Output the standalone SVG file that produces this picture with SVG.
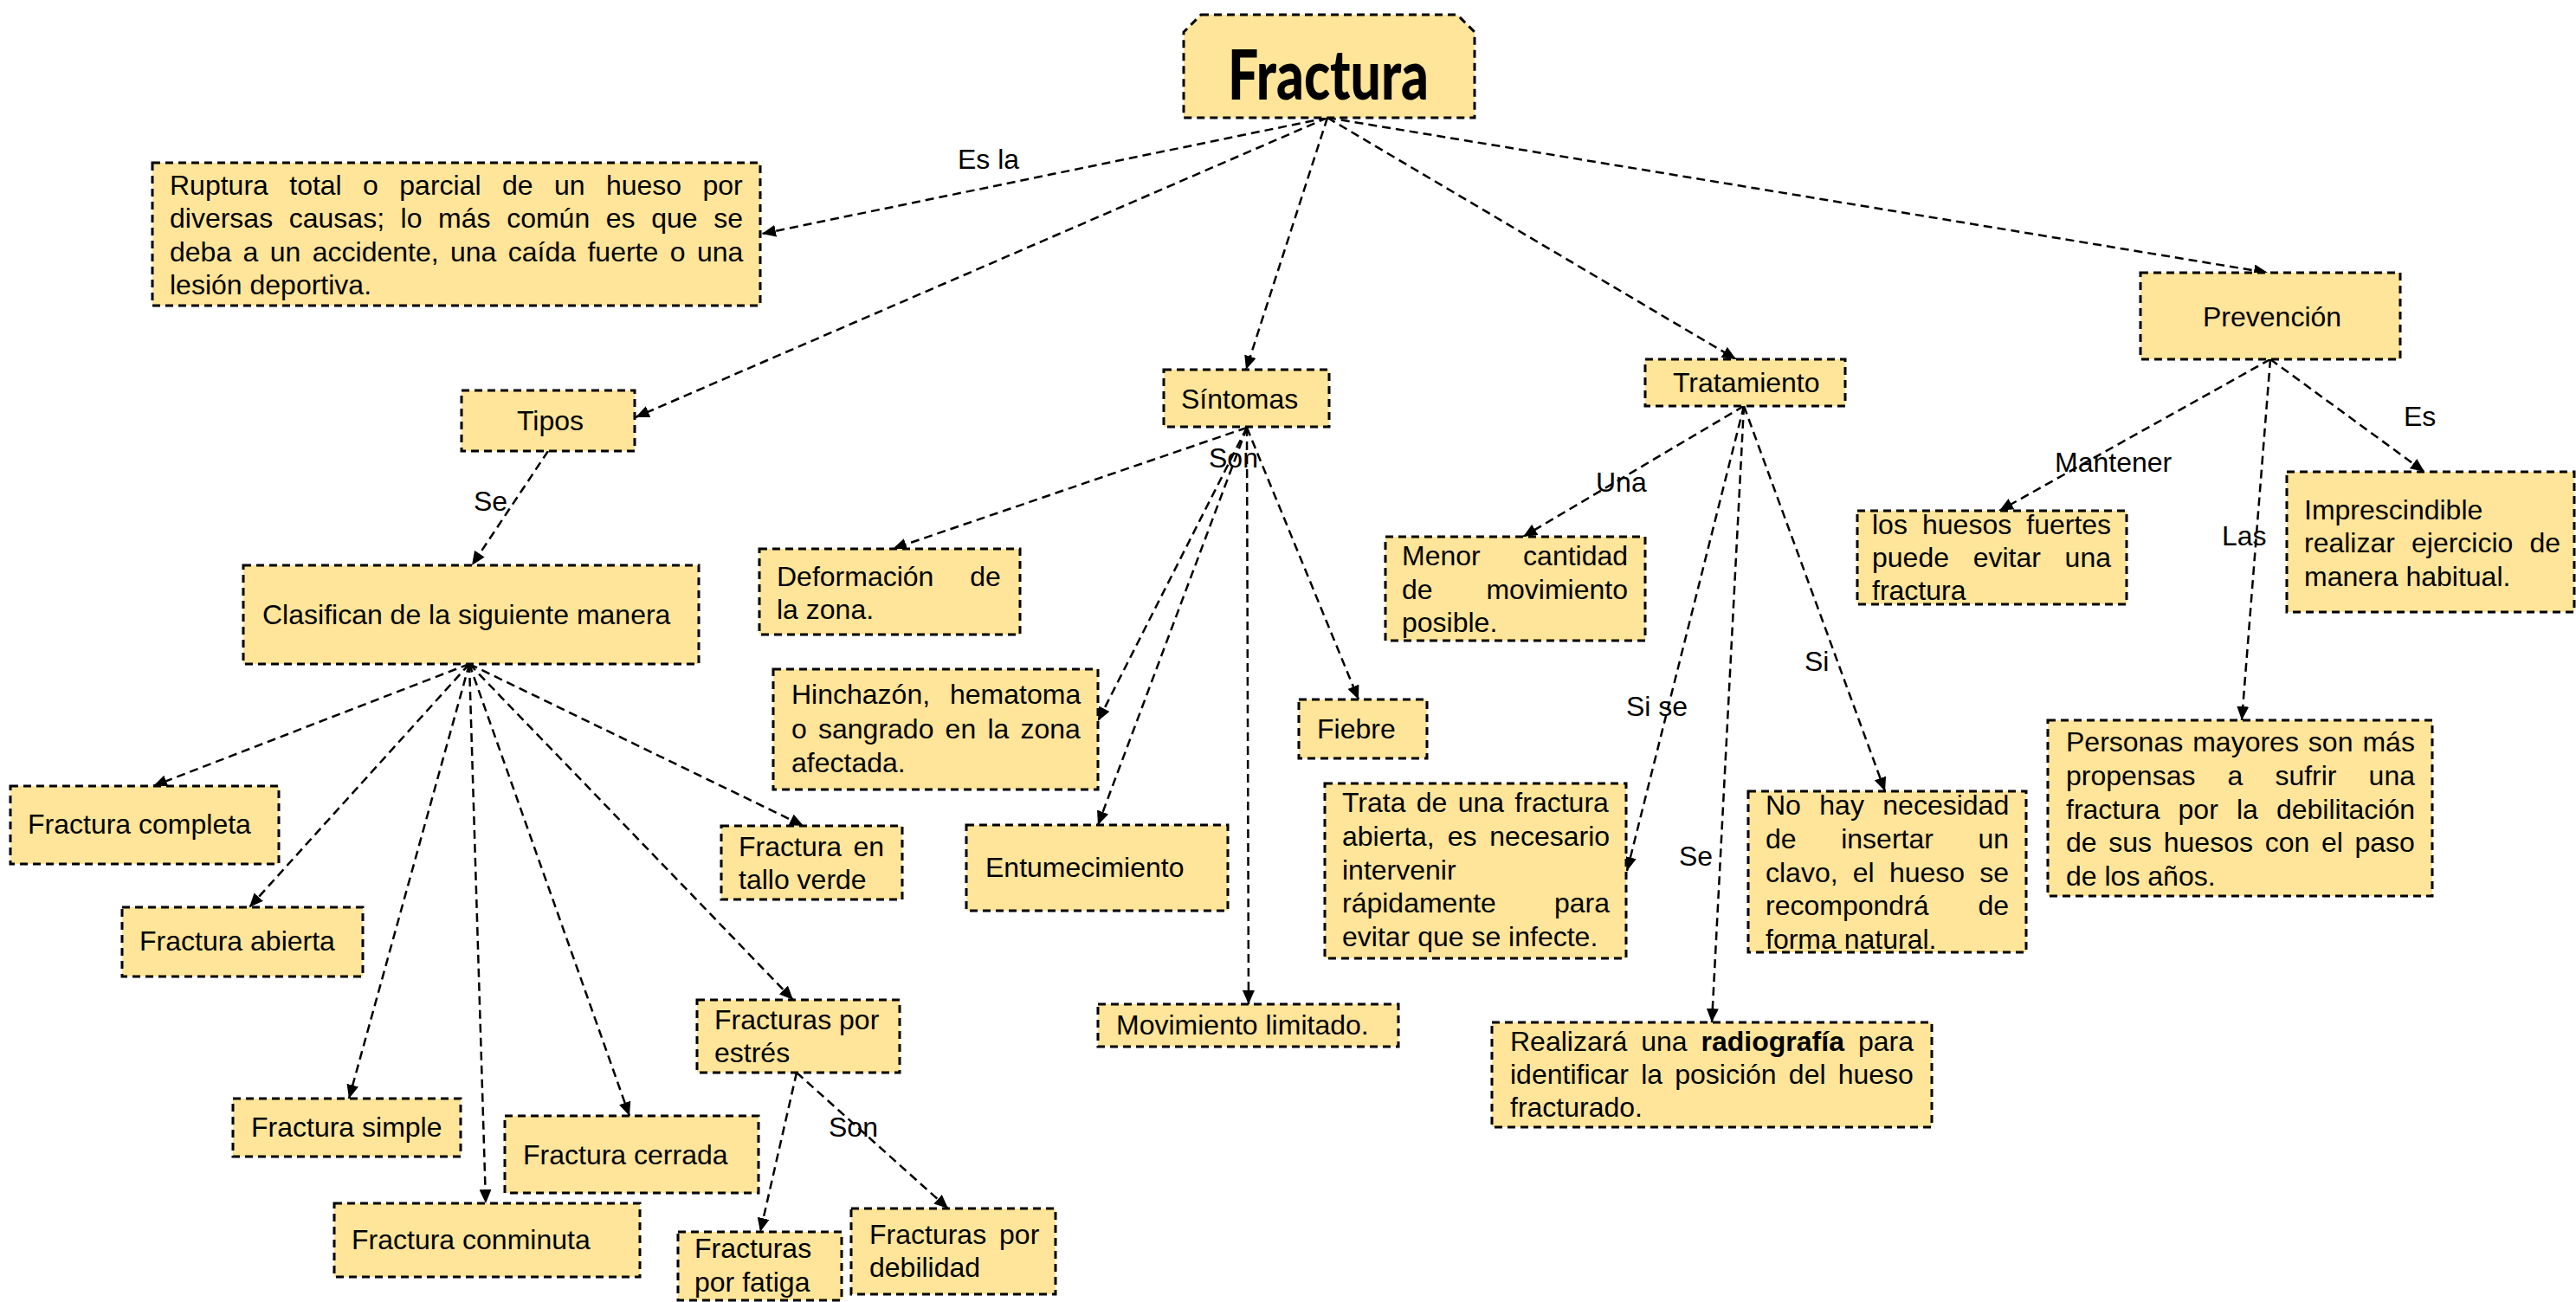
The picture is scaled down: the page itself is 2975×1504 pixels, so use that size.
<svg xmlns="http://www.w3.org/2000/svg" width="2975" height="1504" viewBox="0 0 2975 1504">
<defs>
<marker id="ah" markerUnits="userSpaceOnUse" markerWidth="16" markerHeight="14" refX="16" refY="7" orient="auto">
<path d="M0,0 L16,7 L0,14 z" fill="#000"/>
</marker>
<style>
.box{fill:#FFE599;stroke:#000;stroke-width:3;stroke-dasharray:9 6;}
.t{font-family:"Liberation Sans",Arial,sans-serif;font-size:32px;fill:#000;}
.c{fill:none;stroke:#000;stroke-width:2.5;stroke-dasharray:10 6;marker-end:url(#ah);}
.title{font-family:Lato,"DejaVu Sans",sans-serif;font-weight:900;font-size:80px;fill:#000;}
</style>
</defs>
<rect width="2975" height="1504" fill="#fff"/>

<g id="connectors">
<line class="c" x1="1533" y1="136" x2="880" y2="270"/>
<line class="c" x1="1533" y1="136" x2="734" y2="482"/>
<line class="c" x1="1533" y1="136" x2="1439" y2="427"/>
<line class="c" x1="1533" y1="136" x2="2005" y2="415"/>
<line class="c" x1="1533" y1="136" x2="2619" y2="315"/>
<line class="c" x1="633" y1="521" x2="545" y2="653"/>
<line class="c" x1="542" y1="767" x2="177" y2="908"/>
<line class="c" x1="542" y1="767" x2="288" y2="1048"/>
<line class="c" x1="542" y1="767" x2="403" y2="1269"/>
<line class="c" x1="542" y1="767" x2="561" y2="1390"/>
<line class="c" x1="542" y1="767" x2="727" y2="1289"/>
<line class="c" x1="542" y1="767" x2="928" y2="954"/>
<line class="c" x1="542" y1="767" x2="916" y2="1155"/>
<line class="c" x1="920" y1="1239" x2="878" y2="1423"/>
<line class="c" x1="920" y1="1239" x2="1095" y2="1396"/>
<line class="c" x1="1440" y1="494" x2="1031" y2="634"/>
<line class="c" x1="1440" y1="494" x2="1268" y2="833"/>
<line class="c" x1="1440" y1="494" x2="1268" y2="953"/>
<line class="c" x1="1440" y1="494" x2="1442" y2="1160"/>
<line class="c" x1="1440" y1="494" x2="1569" y2="808"/>
<line class="c" x1="2014" y1="469" x2="1759" y2="620"/>
<line class="c" x1="2014" y1="469" x2="1879" y2="1006"/>
<line class="c" x1="2014" y1="469" x2="1977" y2="1181"/>
<line class="c" x1="2014" y1="469" x2="2177" y2="914"/>
<line class="c" x1="2622" y1="415" x2="2309" y2="590"/>
<line class="c" x1="2622" y1="415" x2="2589" y2="832"/>
<line class="c" x1="2622" y1="415" x2="2800" y2="545"/>
<text class="t" x="1106" y="195">Es la</text>
<text class="t" x="547" y="590">Se</text>
<text class="t" x="1396" y="540">Son</text>
<text class="t" x="957" y="1313">Son</text>
<text class="t" x="1843" y="568">Una</text>
<text class="t" x="1878" y="827">Si se</text>
<text class="t" x="2084" y="775">Si</text>
<text class="t" x="1939" y="1000">Se</text>
<text class="t" x="2373" y="545">Mantener</text>
<text class="t" x="2776" y="492">Es</text>
<text class="t" x="2566" y="630">Las</text>
</g>

<g id="n-fractura">
<path class="box" d="M1387,17 L1683,17 L1703,37 L1703,136 L1367,136 L1367,37 Z"/>
<text class="title" x="1418" y="115" textLength="232" lengthAdjust="spacingAndGlyphs">Fractura</text>
</g>

<g id="n-definicion">
<rect class="box" x="176" y="188" width="702" height="165"/>
<text class="t" x="196" y="225" style="word-spacing:15.5px">Ruptura total o parcial de un hueso por</text>
<text class="t" x="196" y="263" style="word-spacing:9.7px">diversas causas; lo más común es que se</text>
<text class="t" x="196" y="302" style="word-spacing:4.5px">deba a un accidente, una caída fuerte o una</text>
<text class="t" x="196" y="340">lesión deportiva.</text>
</g>

<g id="n-tipos">
<rect class="box" x="533" y="451" width="200" height="70"/>
<text class="t" x="597" y="497">Tipos</text>
</g>

<g id="n-clasifican">
<rect class="box" x="281" y="653" width="526" height="114"/>
<text class="t" x="303" y="721">Clasifican de la siguiente manera</text>
</g>

<g id="n-completa">
<rect class="box" x="12" y="908" width="310" height="90"/>
<text class="t" x="32" y="963">Fractura completa</text>
</g>

<g id="n-abierta">
<rect class="box" x="141" y="1048" width="278" height="80"/>
<text class="t" x="161" y="1098">Fractura abierta</text>
</g>

<g id="n-simple">
<rect class="box" x="269" y="1269" width="263" height="67"/>
<text class="t" x="290" y="1313">Fractura simple</text>
</g>

<g id="n-conminuta">
<rect class="box" x="386" y="1390" width="353" height="85"/>
<text class="t" x="406" y="1443">Fractura conminuta</text>
</g>

<g id="n-cerrada">
<rect class="box" x="583" y="1289" width="293" height="89"/>
<text class="t" x="604" y="1345">Fractura cerrada</text>
</g>

<g id="n-tallo">
<rect class="box" x="833" y="954" width="209" height="85"/>
<text class="t" x="853" y="989" style="word-spacing:4.4px">Fractura en</text>
<text class="t" x="853" y="1027">tallo verde</text>
</g>

<g id="n-estres">
<rect class="box" x="805" y="1155" width="234" height="84"/>
<text class="t" x="825" y="1189">Fracturas por</text>
<text class="t" x="825" y="1227">estrés</text>
</g>

<g id="n-fatiga">
<rect class="box" x="783" y="1423" width="189" height="79"/>
<text class="t" x="802" y="1453">Fracturas</text>
<text class="t" x="802" y="1492">por fatiga</text>
</g>

<g id="n-debilidad">
<rect class="box" x="983" y="1396" width="236" height="99"/>
<text class="t" x="1004" y="1437" style="word-spacing:6px">Fracturas por</text>
<text class="t" x="1004" y="1475">debilidad</text>
</g>

<g id="n-sintomas">
<rect class="box" x="1344" y="427" width="191" height="66"/>
<text class="t" x="1364" y="472">Síntomas</text>
</g>

<g id="n-deformacion">
<rect class="box" x="877" y="634" width="301" height="99"/>
<text class="t" x="897" y="677" style="word-spacing:33px">Deformación de</text>
<text class="t" x="897" y="715">la zona.</text>
</g>

<g id="n-hinchazon">
<rect class="box" x="893" y="773" width="375" height="139"/>
<text class="t" x="914" y="813" style="word-spacing:14px">Hinchazón, hematoma</text>
<text class="t" x="914" y="853" style="word-spacing:4.3px">o sangrado en la zona</text>
<text class="t" x="914" y="892">afectada.</text>
</g>

<g id="n-entumecimiento">
<rect class="box" x="1116" y="953" width="302" height="99"/>
<text class="t" x="1138" y="1013">Entumecimiento</text>
</g>

<g id="n-movimiento">
<rect class="box" x="1268" y="1160" width="347" height="49"/>
<text class="t" x="1289" y="1195">Movimiento limitado.</text>
</g>

<g id="n-fiebre">
<rect class="box" x="1500" y="808" width="148" height="68"/>
<text class="t" x="1521" y="853">Fiebre</text>
</g>

<g id="n-tratamiento">
<rect class="box" x="1900" y="415" width="231" height="54"/>
<text class="t" x="1932" y="453">Tratamiento</text>
</g>

<g id="n-menor">
<rect class="box" x="1600" y="620" width="300" height="120"/>
<text class="t" x="1619" y="653" style="word-spacing:40.5px">Menor cantidad</text>
<text class="t" x="1619" y="692" style="word-spacing:52.9px">de movimiento</text>
<text class="t" x="1619" y="730">posible.</text>
</g>

<g id="n-trata">
<rect class="box" x="1530" y="905" width="348" height="202"/>
<text class="t" x="1550" y="938" style="word-spacing:3.4px">Trata de una fractura</text>
<text class="t" x="1550" y="977" style="word-spacing:6px">abierta, es necesario</text>
<text class="t" x="1550" y="1016">intervenir</text>
<text class="t" x="1550" y="1054" style="word-spacing:58.2px">rápidamente para</text>
<text class="t" x="1550" y="1093">evitar que se infecte.</text>
</g>

<g id="n-nohay">
<rect class="box" x="2019" y="914" width="321" height="186"/>
<text class="t" x="2039" y="941" style="word-spacing:12.5px">No hay necesidad</text>
<text class="t" x="2039" y="980" style="word-spacing:42.7px">de insertar un</text>
<text class="t" x="2039" y="1019" style="word-spacing:8.3px">clavo, el hueso se</text>
<text class="t" x="2039" y="1057" style="word-spacing:48px">recompondrá de</text>
<text class="t" x="2039" y="1096">forma natural.</text>
</g>

<g id="n-realizara">
<rect class="box" x="1723" y="1181" width="508" height="121"/>
<text class="t" x="1744" y="1214" style="word-spacing:7.1px">Realizará una <tspan font-weight="bold">radiografía</tspan> para</text>
<text class="t" x="1744" y="1252" style="word-spacing:5.3px">identificar la posición del hueso</text>
<text class="t" x="1744" y="1290">fracturado.</text>
</g>

<g id="n-prevencion">
<rect class="box" x="2472" y="315" width="300" height="100"/>
<text class="t" x="2544" y="377">Prevención</text>
</g>

<g id="n-huesos">
<rect class="box" x="2145" y="590" width="311" height="108"/>
<text class="t" x="2162" y="617" style="word-spacing:8.2px">los huesos fuertes</text>
<text class="t" x="2162" y="655" style="word-spacing:18.8px">puede evitar una</text>
<text class="t" x="2162" y="693">fractura</text>
</g>

<g id="n-imprescindible">
<rect class="box" x="2641" y="545" width="332" height="162"/>
<text class="t" x="2661" y="600">Imprescindible</text>
<text class="t" x="2661" y="638" style="word-spacing:10.2px">realizar ejercicio de</text>
<text class="t" x="2661" y="677">manera habitual.</text>
</g>

<g id="n-personas">
<rect class="box" x="2365" y="832" width="444" height="203"/>
<text class="t" x="2386" y="868" style="word-spacing:2.1px">Personas mayores son más</text>
<text class="t" x="2386" y="907" style="word-spacing:28.2px">propensas a sufrir una</text>
<text class="t" x="2386" y="946" style="word-spacing:12.2px">fractura por la debilitación</text>
<text class="t" x="2386" y="984" style="word-spacing:4.8px">de sus huesos con el paso</text>
<text class="t" x="2386" y="1023">de los años.</text>
</g>
</svg>
